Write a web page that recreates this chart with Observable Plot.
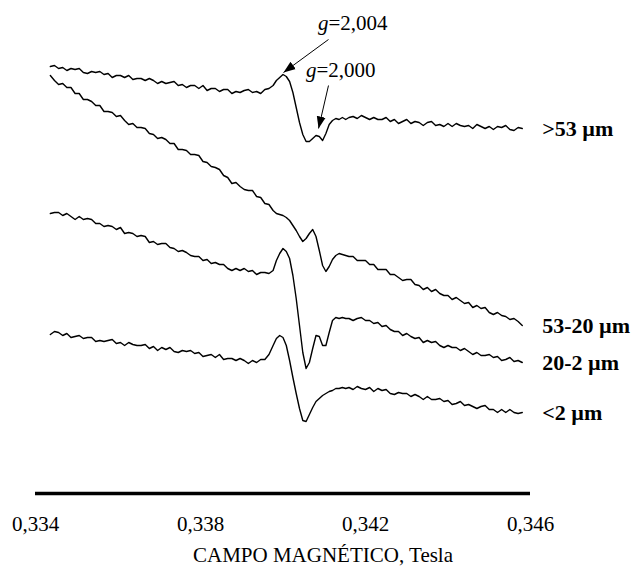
<!DOCTYPE html>
<html><head><meta charset="utf-8">
<script src="https://cdn.jsdelivr.net/npm/d3@7"></script>
<script src="https://cdn.jsdelivr.net/npm/@observablehq/plot@0.6"></script>
<style>body{margin:0;background:#fff}</style>
</head><body><div id="chart"></div>
<script>
// Magnetic field (Tesla) sample positions
const fields = [
0.33436,0.33446,0.33456,0.33466,0.33476,0.33486,0.33496,0.33506,0.33516,0.33526,0.33536,0.33546,0.33556,0.33566,0.33576,0.33586,0.33596,0.33606,0.33616,0.33626,0.33636,0.33646,0.33656,0.33666,0.33676,0.33686,0.33696,0.33706,0.33716,0.33726,0.33736,0.33746,0.33756,0.33766,0.33776,0.33786,0.33796,0.33806,0.33816,0.33826,0.33836,0.33846,0.33856,0.33866,0.33876,0.33886,0.33896,0.33906,0.33916,0.33926,0.33936,0.33946,0.33956,0.33966,0.33976,
0.33984,0.33992,0.34000,0.34008,0.34016,0.34024,0.34032,0.34040,0.34048,0.34056,0.34064,0.34072,0.34080,0.34088,0.34096,0.34104,0.34112,0.34120,0.34128,0.34136,0.34144,0.34152,0.34160,
0.34170,0.34180,0.34190,0.34200,0.34210,0.34220,0.34230,0.34240,0.34250,0.34260,0.34270,0.34280,0.34290,0.34300,0.34310,0.34320,0.34330,0.34340,0.34350,0.34360,0.34370,0.34380,0.34390,0.34400,0.34410,0.34420,0.34430,0.34440,0.34450,0.34460,0.34470,0.34480,0.34490,0.34500,0.34510,0.34520,0.34530,0.34540,0.34550,0.34560,0.34570,0.34580];

const sampleNames = [">53 \u00b5m", "53-20 \u00b5m", "20-2 \u00b5m", "<2 \u00b5m"];

// EPR signal (arbitrary units, vertically offset spectra)
const signalGt53 = [427,428,425,426,423,425,424,425,421,420,422,421,422,419,420,416,418,418,416,418,414,415,415,413,415,413,410,412,410,411,412,408,409,406,408,408,405,408,403,405,405,402,404,404,400,402,401,403,404,401,402,400,404,405,408,
413,416,419,417,412,401,386,371,359,352,352,355,358,357,353,360,369,373,375,374,376,374,376,
377,375,378,376,374,376,374,374,376,372,374,370,372,374,370,372,371,368,371,372,368,369,367,370,367,370,368,367,368,365,369,367,365,367,364,367,366,368,364,363,366,365];
const signal53to20 = [418,413,409,410,406,406,400,400,394,394,392,388,388,382,382,381,377,378,373,369,370,366,366,365,360,359,355,356,354,350,350,344,344,343,339,339,338,332,331,327,326,324,318,316,310,311,307,304,303,303,297,296,290,289,283,
280,279,278,276,273,268,263,257,252,255,260,264,257,243,228,222,227,234,238,240,239,238,237,
237,233,233,233,229,229,224,224,224,219,219,216,213,214,214,209,208,204,206,202,204,200,198,198,194,196,193,190,191,186,188,185,186,181,179,181,178,177,174,175,172,168];
const signal20to2 = [280,281,281,278,280,277,274,277,274,275,274,270,270,267,268,267,264,266,260,261,260,257,258,257,251,252,249,250,250,246,245,242,243,241,238,237,237,233,234,230,231,229,229,225,223,225,223,225,222,223,219,221,221,220,223,
233,240,245,242,235,218,195,168,141,125,131,145,158,157,148,148,161,173,176,175,176,175,175,
173,175,176,173,173,170,171,167,168,164,162,162,158,160,157,155,156,151,153,151,152,148,146,148,146,146,143,145,142,139,141,138,138,139,136,137,133,134,136,132,133,131];
const signalLt2 = [159,162,161,158,160,156,157,158,155,156,156,152,153,152,153,154,150,151,148,151,149,148,148,149,145,147,143,146,144,146,142,141,143,142,143,140,141,137,138,139,136,139,134,135,135,133,135,133,130,133,131,134,134,139,148,
155,158,156,148,133,116,100,85,73,72,79,86,92,95,98,100,102,103,105,105,106,105,106,
104,107,105,104,106,102,105,103,104,100,99,101,100,100,97,99,97,94,97,94,94,95,92,93,89,90,92,88,89,87,85,87,88,84,84,81,84,81,84,81,80,81];

const tickValues = [0.334, 0.338, 0.342, 0.346];
const xTitle = "CAMPO MAGN\u00c9TICO, Tesla";

// g-value annotations
const gValues = ["=2,004", "=2,000"];
const gTipField = [0.340012, 0.340861];
const gTipSignal = [421, 365];
const gTailField = [0.341103, 0.341103];
const gTailSignal = [454, 408];
const gTextField = [0.341103, 0.340812];
const gTextSignal = [470, 423];

const allSignals = [signalGt53, signal53to20, signal20to2, signalLt2];
const rows = [];
allSignals.forEach((vals, i) => vals.forEach((v, j) => rows.push({field: fields[j], signal: v, sample: sampleNames[i]})));
const ends = allSignals.map((vals, i) => ({field: fields[fields.length - 1], signal: vals[vals.length - 1], name: sampleNames[i]}));
const annots = gValues.map((g, i) => ({label: g, tipF: gTipField[i], tipS: gTipSignal[i], tailF: gTailField[i], tailS: gTailSignal[i], tf: gTextField[i], ts: gTextSignal[i]}));

const svg = Plot.plot({
  width: 633, height: 567,
  marginLeft: 35, marginRight: 103, marginTop: 0, marginBottom: 74,
  x: {domain: [0.334, 0.346]},
  y: {domain: [0, 493], axis: null},
  style: {fontFamily: "'Liberation Serif', 'Times New Roman', serif", fontSize: "21px", color: "black", background: "white"},
  marks: [
    Plot.ruleY([0], {stroke: "black", strokeWidth: 3.5}),
    Plot.axisX({ticks: tickValues, tickSize: 0, tickPadding: 23, tickFormat: d => d.toFixed(3).replace(".", ","), fontSize: 21, label: null}),
    Plot.text([xTitle], {frameAnchor: "bottom", lineAnchor: "middle", dx: 40, dy: 62, fontSize: 21}),
    Plot.line(rows, {x: "field", y: "signal", z: "sample", stroke: "black", strokeWidth: 1.4}),
    Plot.text(ends, {x: "field", y: "signal", text: "name", dx: 20, textAnchor: "start", fontWeight: "bold", fontSize: 22}),
    Plot.link(annots, {x1: "tailF", y1: "tailS", x2: "tipF", y2: "tipS", stroke: "black", strokeWidth: 1, markerEnd: "arrow"}),
    Plot.text(annots, {x: "tf", y: "ts", text: () => "g", textAnchor: "end", fontStyle: "italic", fontSize: 21}),
    Plot.text(annots, {x: "tf", y: "ts", text: "label", textAnchor: "start", fontSize: 21})
  ]
});

d3.select(svg).selectAll("marker")
  .attr("viewBox", "-12 -5 12 10").attr("markerWidth", 12).attr("markerHeight", 10)
  .attr("markerUnits", "userSpaceOnUse").attr("refX", 0).attr("refY", 0)
  .select("path").attr("d", "M-12,-4.5L0,0L-12,4.5Z").attr("fill", "black").attr("stroke", "none");

document.getElementById("chart").appendChild(svg);
</script>
</body></html>
